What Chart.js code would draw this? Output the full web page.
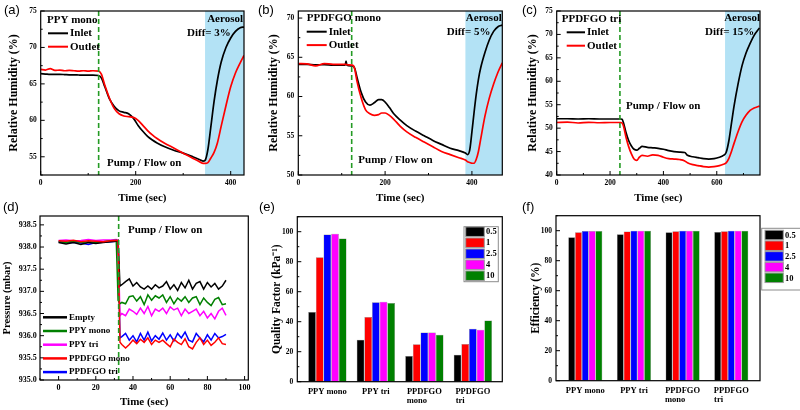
<!DOCTYPE html>
<html>
<head>
<meta charset="utf-8">
<script src="https://cdn.jsdelivr.net/npm/chart.js@4.4.1/dist/chart.umd.min.js"></script>
<style>
    html, body { margin: 0; padding: 0; background: #fff; }
    #wrap { position: relative; width: 800px; height: 410px; overflow: hidden; }
    canvas { position: absolute; }
    .tag { position: absolute; font: 13px "Liberation Sans", Arial, sans-serif; line-height: 1; color: #000; }
</style>
</head>
<body>
<div id="wrap">
    <canvas id="pa"></canvas>
    <canvas id="pb"></canvas>
    <canvas id="pc"></canvas>
    <canvas id="pd"></canvas>
    <canvas id="pe"></canvas>
    <canvas id="pf"></canvas>
    <div class="tag" style="left:4px;top:3px">(a)</div>
    <div class="tag" style="left:258px;top:3px">(b)</div>
    <div class="tag" style="left:522px;top:3px">(c)</div>
    <div class="tag" style="left:3px;top:200px">(d)</div>
    <div class="tag" style="left:259px;top:200px">(e)</div>
    <div class="tag" style="left:522px;top:200px">(f)</div>
</div>
<script>
// ---- (a) PPY mono
const aTime = [0, 10, 20, 30, 40, 50, 60, 70, 80, 90, 100, 110, 122, 128, 135, 145, 155, 165, 175, 185, 195, 205, 215, 225, 235, 245, 260, 280, 300, 320, 335, 342, 346, 352, 358, 365, 372, 380, 390, 400, 410, 420, 428];
const aInlet = [66.4, 66.35, 66.3, 66.3, 66.3, 66.28, 66.25, 66.25, 66.22, 66.2, 66.2, 66.2, 66.15, 65.8, 64.6, 62.9, 61.9, 61.3, 61.1, 60.9, 60.3, 59.3, 58.5, 57.8, 57.3, 56.9, 56.4, 55.9, 55.5, 55.0, 54.6, 54.4, 54.5, 56.0, 59.0, 62.6, 65.5, 68.0, 70.0, 71.3, 72.2, 72.7, 72.8];
const aOutlet = [67.0, 66.9, 67.1, 66.85, 66.9, 66.8, 66.85, 66.8, 66.75, 66.8, 66.75, 66.8, 66.75, 66.3, 64.8, 63.0, 61.6, 60.9, 60.6, 60.5, 60.4, 60.0, 59.3, 58.6, 58.0, 57.5, 56.9, 56.2, 55.5, 54.8, 54.3, 54.1, 54.1, 54.2, 54.8, 55.6, 56.9, 59.2, 62.0, 64.6, 66.5, 67.9, 68.9];
const aXTicks = [0, 200, 400];
const aYTicks = [55, 60, 65, 70, 75];
const aPump = 122, aAerosol = 346;

// ---- (b) PPDFGO mono
const bTime = [0, 20, 40, 60, 80, 100, 108, 110, 112, 125, 130, 135, 145, 155, 165, 175, 185, 192, 200, 210, 220, 235, 250, 270, 290, 310, 330, 350, 370, 385, 390, 395, 400, 405, 410, 415, 420, 430, 440, 450, 460, 470];
const bInlet = [64.1, 64.1, 64.05, 64.05, 64.0, 64.0, 64.0, 64.5, 64.0, 63.9, 63.6, 62.5, 60.5, 59.3, 58.9, 59.2, 59.6, 59.6, 59.3, 58.6, 57.8, 57.0, 56.3, 55.6, 55.0, 54.4, 53.9, 53.4, 53.1, 52.8, 52.6, 53.2, 55.5, 58.0, 60.3, 62.2, 63.6, 65.6, 67.2, 68.3, 68.9, 69.1];
const bOutlet = [64.2, 64.15, 63.9, 64.2, 64.1, 64.1, 64.1, 64.1, 64.05, 64.0, 63.5, 62.0, 59.8, 58.3, 57.8, 57.6, 57.7, 57.9, 57.9, 57.6, 57.1, 56.2, 55.5, 54.8, 54.2, 53.6, 53.0, 52.6, 52.2, 51.9, 51.7, 51.6, 51.5, 51.5, 52.0, 53.0, 54.5, 57.5, 59.8, 61.6, 63.1, 64.3];
const bXTicks = [0, 200, 400];
const bYTicks = [50, 55, 60, 65, 70];
const bPump = 123, bAerosol = 385;

// ---- (c) PPDFGO tri
const cTime = [0, 40, 80, 120, 160, 200, 240, 245, 250, 260, 270, 280, 290, 300, 310, 320, 340, 360, 380, 400, 420, 440, 460, 480, 490, 510, 530, 550, 570, 590, 610, 625, 635, 645, 655, 665, 680, 695, 710, 725, 740, 760];
const cInlet = [52.0, 52.0, 51.95, 52.0, 51.95, 51.95, 51.95, 51.9, 51.2, 49.0, 47.3, 46.2, 45.5, 45.3, 45.7, 46.1, 45.9, 45.8, 45.7, 45.5, 45.2, 45.0, 44.9, 44.8, 44.2, 43.9, 43.7, 43.5, 43.4, 43.5, 43.8, 44.2, 44.8, 47.2, 51.0, 54.8, 59.5, 63.4, 66.1, 68.1, 69.8, 71.4];
const cOutlet = [51.2, 51.3, 51.1, 51.25, 51.15, 51.2, 51.2, 51.1, 50.5, 48.0, 46.0, 44.5, 43.4, 43.1, 43.8, 44.2, 44.0, 44.3, 44.2, 43.8, 43.5, 43.4, 43.3, 43.0, 42.6, 42.2, 42.0, 41.8, 41.7, 41.8, 42.0, 42.3, 42.6, 43.5, 45.0, 46.8, 49.3, 51.4, 52.8, 53.8, 54.3, 54.7];
const cXTicks = [0, 200, 400, 600];
const cYTicks = [40, 45, 50, 55, 60, 65, 70, 75];
const cPump = 237, cAerosol = 631;

// ---- (d) pressure
const dTime = [0, 4, 8, 12, 16, 20, 24, 28, 31, 32, 33, 34, 36, 38, 40, 42, 44, 46, 48, 50, 52, 54, 56, 58, 60, 62, 64, 66, 68, 70, 72, 74, 76, 78, 80, 82, 84, 86, 88, 90];
const dEmpty = [938.1, 938.07, 938.1, 938.06, 938.1, 938.08, 938.1, 938.12, 938.13, 938.15, 937.12,
    937.15, 937.22, 937.28, 937.12, 937.2, 937.1, 937.05, 937.12, 937.05, 937.15, 937.08, 937.12, 937.22, 937.05, 937.15, 937.02, 937.2, 937.08, 937.25, 937.05, 937.18, 937.22, 937.05, 937.2, 937.1, 937.18, 937.05, 937.12, 937.25];
const dPpyMono = [938.12, 938.1, 938.13, 938.1, 938.12, 938.11, 938.12, 938.14, 938.15, 936.8, 936.72,
    936.75, 936.72, 936.88, 936.9, 936.78, 936.88, 936.7, 936.92, 936.8, 936.9, 936.85, 936.92, 936.75, 936.88, 936.72, 936.85, 936.78, 936.88, 936.75, 936.85, 936.88, 936.7, 936.85, 936.75, 936.68, 936.82, 936.86, 936.7, 936.72];
const dPpyTri = [938.15, 938.16, 938.14, 938.15, 938.17, 938.15, 938.16, 938.16, 938.17, 938.15, 936.45,
    936.5, 936.45, 936.6, 936.55, 936.48, 936.62, 936.5, 936.66, 936.45, 936.6, 936.55, 936.62, 936.5, 936.65, 936.58, 936.62, 936.45, 936.6, 936.5, 936.55, 936.6, 936.45, 936.55, 936.4, 936.5, 936.38, 936.55, 936.62, 936.46];
const dPpdMono = [938.14, 938.13, 938.15, 938.12, 938.14, 938.13, 938.12, 938.14, 938.15, 938.15, 935.85,
    935.8, 935.72, 935.8, 935.9, 935.82, 935.92, 935.85, 935.95, 935.8, 935.9, 935.85, 935.9, 935.82, 935.75, 935.92, 935.85, 935.8, 935.93, 935.75, 935.7, 935.85, 935.95, 935.8, 935.9, 935.78, 935.85, 935.95, 935.82, 935.8];
const dPpdTri = [938.12, 938.1, 938.11, 938.09, 938.06, 938.1, 938.11, 938.12, 938.13, 938.14, 935.95,
    935.98, 936.05, 935.9, 936.0, 935.86, 936.05, 935.9, 936.08, 935.88, 936.0, 935.92, 936.06, 935.9, 936.02, 935.88, 936.05, 935.95, 936.08, 935.9, 935.86, 936.05, 935.95, 935.86, 936.02, 935.9, 936.05, 935.95, 935.98, 936.03];
const dNames = ['Empty', 'PPY mono', 'PPY tri', 'PPDFGO mono', 'PPDFGO tri'];
const dColors = ['#000000', '#008000', '#ff00ff', '#ff0000', '#0000ff'];
const dXTicks = [0, 20, 40, 60, 80, 100];
const dYTicks = [935.0, 935.5, 936.0, 936.5, 937.0, 937.5, 938.0, 938.5];
const dPump = 32.3;

// ---- (e) quality factor, (f) efficiency
const filters = ['PPY mono', 'PPY tri', 'PPDFGO mono', 'PPDFGO tri'];
const sizes = ['0.5', '1', '2.5', '4', '10'];
const barColors = ['#000000', '#ff0000', '#0000ff', '#ff00ff', '#008000'];
const qf05 = [46.4, 27.9, 17.2, 17.9];
const qf1 = [83.0, 43.1, 25.0, 25.2];
const qf25 = [98.2, 52.9, 32.8, 35.3];
const qf4 = [98.7, 53.3, 32.8, 34.6];
const qf10 = [95.5, 52.5, 31.3, 40.8];
const eff05 = [95.6, 97.6, 98.9, 99.1];
const eff1 = [99.0, 99.4, 99.7, 99.7];
const eff25 = [99.8, 99.9, 99.9, 99.9];
const eff4 = [99.8, 99.9, 99.9, 99.9];
const eff10 = [99.8, 99.9, 99.9, 99.9];
const pctTicks = [0, 20, 40, 60, 80, 100];

const SERIF = "'Liberation Serif', 'Times New Roman', serif";
const SHADE = '#b3e2f5';
const PUMP = '#249b24';

Chart.defaults.font.family = SERIF;
Chart.defaults.color = '#000';
Chart.defaults.animation = false;

const xy = (t, v) => t.map((x, i) => ({ x, y: v[i] }));

function minors(ticks, min, max) {
    const step = ticks[1] - ticks[0];
    const out = [];
    for (let v = ticks[0] - step / 2; v <= max; v += step) if (v >= min) out.push(v);
    return out;
}

// frame, inward ticks, shading, annotations, legends
const decor = {
    id: 'decor',
    beforeDatasetsDraw(chart, args, o) {
        if (o.shade == null) return;
        const { ctx, chartArea: a } = chart;
        const x0 = chart.scales.x.getPixelForValue(o.shade);
        ctx.save();
        ctx.fillStyle = SHADE;
        ctx.fillRect(x0, a.top, a.right - x0, a.bottom - a.top);
        ctx.restore();
    },
    afterDatasetsDraw(chart, args, o) {
        const { ctx, chartArea: a, scales: { x, y } } = chart;
        const ox = chart.canvas.offsetLeft, oy = chart.canvas.offsetTop;
        ctx.save();
        if (o.pump != null) {
            const px = x.getPixelForValue(o.pump);
            ctx.strokeStyle = PUMP;
            ctx.lineWidth = 1.6;
            ctx.setLineDash([5, 3]);
            ctx.beginPath(); ctx.moveTo(px, a.top); ctx.lineTo(px, a.bottom); ctx.stroke();
            ctx.setLineDash([]);
        }
        ctx.strokeStyle = '#000';
        ctx.lineWidth = 1.2;
        ctx.strokeRect(a.left, a.top, a.right - a.left, a.bottom - a.top);

        ctx.lineWidth = 1;
        const mark = (ax, v, len) => {
            const p = ax.getPixelForValue(v);
            ctx.beginPath();
            if (ax.axis === 'x') {
                if (p < a.left || p > a.right) return;
                ctx.moveTo(p, a.bottom); ctx.lineTo(p, a.bottom - len);
            } else {
                if (p < a.top || p > a.bottom) return;
                ctx.moveTo(a.left, p); ctx.lineTo(a.left + len, p);
            }
            ctx.stroke();
        };
        if (o.xt) {
            o.xt.forEach(v => mark(x, v, 4));
            minors(o.xt, x.min, x.max).forEach(v => mark(x, v, 2));
        }
        if (o.yt) {
            o.yt.forEach(v => mark(y, v, 4));
            minors(o.yt, y.min, y.max).forEach(v => mark(y, v, 2));
        }

        ctx.fillStyle = '#000';
        ctx.textBaseline = 'middle';
        (o.texts || []).forEach(([t, tx, ty, al, sz]) => {
            ctx.font = `bold ${sz || 11}px ${SERIF}`;
            ctx.textAlign = al;
            ctx.fillText(t, tx - ox, ty - oy);
        });

        const ds = chart.data.datasets;
        if (o.keys) {
            const k = o.keys;
            ctx.font = `bold ${k.size}px ${SERIF}`;
            ctx.textAlign = 'left';
            ds.forEach((d, i) => {
                const ky = k.y0 + i * k.dy - oy;
                ctx.strokeStyle = d.borderColor;
                ctx.lineWidth = k.lw;
                ctx.beginPath(); ctx.moveTo(k.x0 - ox, ky); ctx.lineTo(k.x1 - ox, ky); ctx.stroke();
                ctx.fillStyle = '#000';
                ctx.fillText(d.label, k.x1 + 2 - ox, ky);
            });
        }
        if (o.box) {
            const b = o.box;
            ctx.strokeStyle = '#8c8c8c';
            ctx.lineWidth = 1;
            ctx.strokeRect(b.frame[0] - ox, b.frame[1] - oy, b.frame[2] - b.frame[0], b.frame[3] - b.frame[1]);
            ctx.font = `bold ${b.size}px ${SERIF}`;
            ctx.textAlign = 'left';
            ds.forEach((d, i) => {
                const cy = b.y0 + i * b.dy - oy;
                ctx.fillStyle = d.backgroundColor;
                ctx.fillRect(b.sx[0] - ox, cy - b.h / 2, b.sx[1] - b.sx[0], b.h);
                ctx.strokeStyle = '#9a9a9a';
                ctx.strokeRect(b.sx[0] - ox, cy - b.h / 2, b.sx[1] - b.sx[0], b.h);
                ctx.fillStyle = '#000';
                ctx.fillText(d.label, b.tx - ox, cy + 0.5);
            });
        }
        ctx.restore();
    }
};

function axis(min, max, ticks, fmt, size, pad) {
    return {
        type: 'linear', min, max, offset: false,
        afterBuildTicks: s => { s.ticks = ticks.map(v => ({ value: v })); },
        ticks: { callback: fmt, font: { size, weight: 'bold' }, padding: pad, autoSkip: false, maxRotation: 0 },
        grid: { display: false, drawTicks: false, offset: false },
        border: { display: false },
        title: { display: false }
    };
}

function withTitle(ax, text, size, padding) {
    ax.title = { display: true, text, font: { size, weight: 'bold' }, padding };
    return ax;
}

function build(id, g, config) {
    const cv = document.getElementById(id);
    cv.width = g.w; cv.height = g.h;
    cv.style.left = g.x + 'px'; cv.style.top = g.y + 'px';
    const o = config.options;
    o.responsive = false;
    o.layout = { padding: { top: g.t - g.y, right: g.x + g.w - g.r, left: 0, bottom: 0 } };
    o.scales.x.afterFit = s => { s.height = g.y + g.h - g.b; };
    o.scales.y.afterFit = s => { s.width = g.l - g.x; };
    o.plugins = Object.assign({ legend: { display: false }, tooltip: { enabled: false } }, o.plugins);
    config.plugins = [decor];
    return new Chart(cv, config);
}

function humidity(id, g, t, inlet, outlet, xr, yr, xt, yt, yPad, decorOpts) {
    return build(id, g, {
        type: 'line',
        data: {
            datasets: [
                { label: 'Inlet', data: xy(t, inlet), borderColor: '#000', borderWidth: 1.7, pointRadius: 0, cubicInterpolationMode: 'monotone', order: 1 },
                { label: 'Outlet', data: xy(t, outlet), borderColor: '#ff0000', borderWidth: 1.7, pointRadius: 0, cubicInterpolationMode: 'monotone', order: 0 }
            ]
        },
        options: {
            scales: {
                x: withTitle(axis(xr[0], xr[1], xt, v => String(v), 7.5, 3.5), 'Time (sec)', 11, { top: 0, bottom: 3.5 }),
                y: withTitle(axis(yr[0], yr[1], yt, v => String(v), 7.5, 4), 'Relative Humidity (%)', 12, { top: yPad, bottom: 0 })
            },
            plugins: { decor: decorOpts }
        }
    });
}

const lineKeys = (x0, x1, y0) => ({ x0, x1, y0, dy: 13.4, size: 11, lw: 2 });

humidity('pa', { x: 0, y: 0, w: 262, h: 208, l: 40.7, t: 11, r: 244, b: 175 },
    aTime, aInlet, aOutlet, [0, 428], [52.5, 75], aXTicks, aYTicks, 6.8, {
        shade: aAerosol, pump: aPump, xt: aXTicks, yt: aYTicks,
        keys: lineKeys(48, 68, 33.3),
        texts: [['PPY mono', 47, 20, 'left'], ['Aerosol', 243, 19, 'right'], ['Diff= 3%', 187, 33.3, 'left'], ['Pump / Flow on', 107, 163.3, 'left']]
    });

humidity('pb', { x: 262, y: 0, w: 262, h: 208, l: 298.3, t: 11, r: 502.3, b: 175 },
    bTime, bInlet, bOutlet, [0, 470], [50, 70.9], bXTicks, bYTicks, 4.3, {
        shade: bAerosol, pump: bPump, xt: bXTicks, yt: bYTicks,
        keys: lineKeys(306.7, 326.7, 31.7),
        texts: [['PPDFGO mono', 306.7, 18.3, 'left'], ['Aerosol', 501.7, 18.3, 'right'], ['Diff= 5%', 446.7, 32.3, 'left'], ['Pump / Flow on', 358.3, 160, 'left']]
    });

humidity('pc', { x: 522, y: 0, w: 278, h: 208, l: 556.7, t: 11, r: 760, b: 175 },
    cTime, cInlet, cOutlet, [0, 762], [40, 75], cXTicks, cYTicks, 3.8, {
        shade: cAerosol, pump: cPump, xt: cXTicks, yt: cYTicks,
        keys: lineKeys(566.7, 585, 32.3),
        texts: [['PPDFGO tri', 561.7, 19, 'left'], ['Aerosol', 760, 18.3, 'right'], ['Diff= 15%', 705, 32.3, 'left'], ['Pump / Flow on', 626, 106, 'left']]
    });

const dSeries = [dEmpty, dPpyMono, dPpyTri, dPpdMono, dPpdTri];
build('pd', { x: 0, y: 200, w: 262, h: 210, l: 40, t: 216, r: 248.3, b: 380 }, {
    type: 'line',
    data: {
        datasets: dSeries.map((s, i) => ({
            label: dNames[i], data: xy(dTime, s), borderColor: dColors[i], borderWidth: 1.5,
            pointRadius: 0, tension: 0, order: i === 3 ? 0 : i + 1
        }))
    },
    options: {
        scales: {
            x: withTitle(axis(-10, 102, dXTicks, v => String(v), 8, 3.3), 'Time (sec)', 11, { top: 0, bottom: 1.7 }),
            y: withTitle(axis(935.0, 938.7, dYTicks, v => v.toFixed(1), 8, 3.3), 'Pressure (mbar)', 10.5, { top: 1.2, bottom: 0 })
        },
        plugins: {
            decor: {
                pump: dPump, xt: dXTicks, yt: dYTicks,
                keys: { x0: 43, x1: 67, y0: 317.3, dy: 13.7, size: 9, lw: 2.5 },
                texts: [['Pump / Flow on', 128, 230, 'left']]
            }
        }
    }
});

const catLabel = v => {
    const name = filters[v];
    if (!name.startsWith('PPDFGO')) return name;
    const rest = name.slice(7);
    return ['PPDFGO', rest + ' '.repeat(rest === 'mono' ? 7 : 12)];
};

function bars(id, g, series, xr, catPct, title, yPad, box) {
    return build(id, g, {
        type: 'bar',
        data: {
            datasets: series.map((s, i) => ({
                label: sizes[i], data: s.map((v, j) => ({ x: j, y: v })),
                backgroundColor: barColors[i], borderColor: '#7d7d7d', borderWidth: 0.5,
                barPercentage: 1, categoryPercentage: catPct
            }))
        },
        options: {
            scales: {
                x: (() => {
                    const ax = axis(xr[0], xr[1], [0, 1, 2, 3], catLabel, 8.5, 5);
                    ax.ticks.font.lineHeight = 1.1;
                    return ax;
                })(),
                y: withTitle(axis(0, 110, pctTicks, v => String(v), 7.5, 4), title, 11.5, { top: yPad, bottom: 0 })
            },
            plugins: { decor: { yt: pctTicks, box } }
        }
    });
}

bars('pe', { x: 262, y: 200, w: 262, h: 210, l: 297.3, t: 216.7, r: 502.3, b: 381.7 },
    [qf05, qf1, qf25, qf4, qf10], [-0.62, 3.607], 0.79, 'Quality Factor (kPa\u207B\u00B9)', 8.6,
    { frame: [464, 226.7, 498.3, 281.7], sx: [465.7, 484.3], y0: 231.7, dy: 11, h: 9.5, tx: 486, size: 8.5 });

bars('pf', { x: 522, y: 200, w: 278, h: 210, l: 556, t: 215.7, r: 760, b: 380.7 },
    [eff05, eff1, eff25, eff4, eff10], [-0.602, 3.59], 0.70, 'Efficiency (%)', 7.1,
    { frame: [761.7, 228.3, 801, 290], sx: [765, 783.3], y0: 235, dy: 10.7, h: 9.5, tx: 785, size: 8.5 });
</script>
</body>
</html>
